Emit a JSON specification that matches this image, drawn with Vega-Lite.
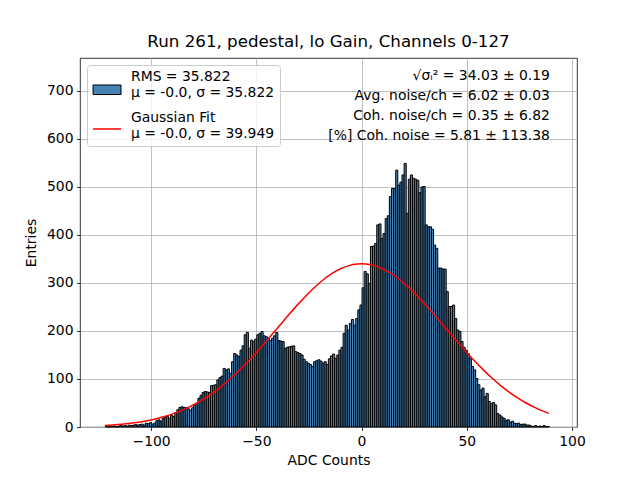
{
  "$schema": "https://vega.github.io/schema/vega-lite/v6.json",
  "description": "Pedestal ADC histogram with Gaussian fit, run 261, lo gain.",
  "width": 497,
  "height": 369,
  "autosize": {"type": "none"},
  "padding": {"left": 80, "top": 58, "right": 63, "bottom": 53},
  "background": "white",
  "title": {"text": "Run 261, pedestal, lo Gain, Channels 0-127"},
  "config": {
    "font": "DejaVu Sans",
    "view": {"stroke": "black", "strokeWidth": 0.8},
    "title": {"fontSize": 16.7, "fontWeight": "normal", "color": "black", "offset": 7, "anchor": "middle"},
    "axis": {
      "grid": true,
      "gridColor": "#b0b0b0",
      "gridWidth": 0.8,
      "domain": false,
      "tickColor": "black",
      "tickWidth": 0.8,
      "tickSize": 3.5,
      "labelFontSize": 13.9,
      "labelColor": "black",
      "labelPadding": 3.5,
      "titleFontSize": 13.9,
      "titleFontWeight": "normal",
      "titleColor": "black",
      "zindex": 1
    },
    "legend": {
      "orient": "top-left",
      "offset": 7,
      "padding": 5,
      "strokeColor": "#cccccc",
      "fillColor": "rgba(255,255,255,0.8)",
      "cornerRadius": 3,
      "labelFontSize": 13.9,
      "labelColor": "black",
      "labelLimit": 400,
      "labelOffset": 25,
      "rowPadding": 11,
      "symbolSize": 144,
      "zindex": 2
    }
  },
  "datasets": {
    "hist": [
      {"adc": -122, "entries": 1}, {"adc": -121, "entries": 0}, {"adc": -120, "entries": 1}, {"adc": -119, "entries": 1},
      {"adc": -118, "entries": 2}, {"adc": -117, "entries": 1}, {"adc": -116, "entries": 2}, {"adc": -115, "entries": 3},
      {"adc": -114, "entries": 2}, {"adc": -113, "entries": 3}, {"adc": -112, "entries": 2}, {"adc": -111, "entries": 4},
      {"adc": -110, "entries": 3}, {"adc": -109, "entries": 4}, {"adc": -108, "entries": 5}, {"adc": -107, "entries": 4},
      {"adc": -106, "entries": 5}, {"adc": -105, "entries": 6}, {"adc": -104, "entries": 4}, {"adc": -103, "entries": 8},
      {"adc": -102, "entries": 7}, {"adc": -101, "entries": 9}, {"adc": -100, "entries": 6}, {"adc": -99, "entries": 8},
      {"adc": -98, "entries": 13}, {"adc": -97, "entries": 15}, {"adc": -96, "entries": 12}, {"adc": -95, "entries": 18},
      {"adc": -94, "entries": 21}, {"adc": -93, "entries": 22}, {"adc": -92, "entries": 18}, {"adc": -91, "entries": 24},
      {"adc": -90, "entries": 22}, {"adc": -89, "entries": 30}, {"adc": -88, "entries": 36}, {"adc": -87, "entries": 41},
      {"adc": -86, "entries": 42}, {"adc": -85, "entries": 41}, {"adc": -84, "entries": 40}, {"adc": -83, "entries": 38},
      {"adc": -82, "entries": 35}, {"adc": -81, "entries": 40}, {"adc": -80, "entries": 46}, {"adc": -79, "entries": 49},
      {"adc": -78, "entries": 60}, {"adc": -77, "entries": 66}, {"adc": -76, "entries": 72}, {"adc": -75, "entries": 74},
      {"adc": -74, "entries": 73}, {"adc": -73, "entries": 72}, {"adc": -72, "entries": 86}, {"adc": -71, "entries": 87},
      {"adc": -70, "entries": 88}, {"adc": -69, "entries": 98}, {"adc": -68, "entries": 103}, {"adc": -67, "entries": 106},
      {"adc": -66, "entries": 122}, {"adc": -65, "entries": 119}, {"adc": -64, "entries": 121}, {"adc": -63, "entries": 112},
      {"adc": -62, "entries": 136}, {"adc": -61, "entries": 153}, {"adc": -60, "entries": 150}, {"adc": -59, "entries": 147},
      {"adc": -58, "entries": 160}, {"adc": -57, "entries": 169}, {"adc": -56, "entries": 192}, {"adc": -55, "entries": 197},
      {"adc": -54, "entries": 164}, {"adc": -53, "entries": 181}, {"adc": -52, "entries": 178}, {"adc": -51, "entries": 183},
      {"adc": -50, "entries": 192}, {"adc": -49, "entries": 195}, {"adc": -48, "entries": 199}, {"adc": -47, "entries": 190},
      {"adc": -46, "entries": 188}, {"adc": -45, "entries": 185}, {"adc": -44, "entries": 180}, {"adc": -43, "entries": 185},
      {"adc": -42, "entries": 190}, {"adc": -41, "entries": 197}, {"adc": -40, "entries": 180}, {"adc": -39, "entries": 179},
      {"adc": -38, "entries": 178}, {"adc": -37, "entries": 164}, {"adc": -36, "entries": 166}, {"adc": -35, "entries": 167},
      {"adc": -34, "entries": 168}, {"adc": -33, "entries": 169}, {"adc": -32, "entries": 157}, {"adc": -31, "entries": 155},
      {"adc": -30, "entries": 153}, {"adc": -29, "entries": 150}, {"adc": -28, "entries": 141}, {"adc": -27, "entries": 136},
      {"adc": -26, "entries": 133}, {"adc": -25, "entries": 130}, {"adc": -24, "entries": 126}, {"adc": -23, "entries": 136},
      {"adc": -22, "entries": 138}, {"adc": -21, "entries": 140}, {"adc": -20, "entries": 137}, {"adc": -19, "entries": 133},
      {"adc": -18, "entries": 136}, {"adc": -17, "entries": 130}, {"adc": -16, "entries": 142}, {"adc": -15, "entries": 148},
      {"adc": -14, "entries": 152}, {"adc": -13, "entries": 143}, {"adc": -12, "entries": 150}, {"adc": -11, "entries": 160},
      {"adc": -10, "entries": 166}, {"adc": -9, "entries": 195}, {"adc": -8, "entries": 212}, {"adc": -7, "entries": 202},
      {"adc": -6, "entries": 216}, {"adc": -5, "entries": 224}, {"adc": -4, "entries": 212}, {"adc": -3, "entries": 226},
      {"adc": -2, "entries": 244}, {"adc": -1, "entries": 254}, {"adc": 0, "entries": 290}, {"adc": 1, "entries": 324},
      {"adc": 2, "entries": 319}, {"adc": 3, "entries": 299}, {"adc": 4, "entries": 376}, {"adc": 5, "entries": 377},
      {"adc": 6, "entries": 382}, {"adc": 7, "entries": 421}, {"adc": 8, "entries": 423}, {"adc": 9, "entries": 393},
      {"adc": 10, "entries": 403}, {"adc": 11, "entries": 434}, {"adc": 12, "entries": 440}, {"adc": 13, "entries": 480},
      {"adc": 14, "entries": 497}, {"adc": 15, "entries": 497}, {"adc": 16, "entries": 535}, {"adc": 17, "entries": 504},
      {"adc": 18, "entries": 510}, {"adc": 19, "entries": 525}, {"adc": 20, "entries": 549}, {"adc": 21, "entries": 445},
      {"adc": 22, "entries": 516}, {"adc": 23, "entries": 525}, {"adc": 24, "entries": 518}, {"adc": 25, "entries": 516},
      {"adc": 26, "entries": 514}, {"adc": 27, "entries": 488}, {"adc": 28, "entries": 500}, {"adc": 29, "entries": 501},
      {"adc": 30, "entries": 421}, {"adc": 31, "entries": 417}, {"adc": 32, "entries": 417}, {"adc": 33, "entries": 412},
      {"adc": 34, "entries": 379}, {"adc": 35, "entries": 372}, {"adc": 36, "entries": 331}, {"adc": 37, "entries": 331},
      {"adc": 38, "entries": 329}, {"adc": 39, "entries": 329}, {"adc": 40, "entries": 282}, {"adc": 41, "entries": 251},
      {"adc": 42, "entries": 251}, {"adc": 43, "entries": 254}, {"adc": 44, "entries": 226}, {"adc": 45, "entries": 202},
      {"adc": 46, "entries": 199}, {"adc": 47, "entries": 178}, {"adc": 48, "entries": 166}, {"adc": 49, "entries": 160},
      {"adc": 50, "entries": 153}, {"adc": 51, "entries": 143}, {"adc": 52, "entries": 126}, {"adc": 53, "entries": 119},
      {"adc": 54, "entries": 101}, {"adc": 55, "entries": 88}, {"adc": 56, "entries": 77}, {"adc": 57, "entries": 81},
      {"adc": 58, "entries": 63}, {"adc": 59, "entries": 70}, {"adc": 60, "entries": 53}, {"adc": 61, "entries": 49},
      {"adc": 62, "entries": 51}, {"adc": 63, "entries": 46}, {"adc": 64, "entries": 28}, {"adc": 65, "entries": 25},
      {"adc": 66, "entries": 21}, {"adc": 67, "entries": 18}, {"adc": 68, "entries": 14}, {"adc": 69, "entries": 15},
      {"adc": 70, "entries": 10}, {"adc": 71, "entries": 12}, {"adc": 72, "entries": 8}, {"adc": 73, "entries": 7},
      {"adc": 74, "entries": 8}, {"adc": 75, "entries": 5}, {"adc": 76, "entries": 6}, {"adc": 77, "entries": 6},
      {"adc": 78, "entries": 4}, {"adc": 79, "entries": 4}, {"adc": 80, "entries": 2}, {"adc": 81, "entries": 1},
      {"adc": 82, "entries": 3}, {"adc": 83, "entries": 1}, {"adc": 84, "entries": 2}, {"adc": 85, "entries": 1},
      {"adc": 86, "entries": 3}, {"adc": 87, "entries": 1}, {"adc": 88, "entries": 1}
    ],
    "fit": [
      {"x": -122, "y": 3.2}, {"x": -118, "y": 4.34}, {"x": -114, "y": 5.8}, {"x": -110, "y": 7.68},
      {"x": -106, "y": 10.06}, {"x": -102, "y": 13.06}, {"x": -98, "y": 16.78}, {"x": -94, "y": 21.34},
      {"x": -90, "y": 26.88}, {"x": -86, "y": 33.51}, {"x": -82, "y": 41.36}, {"x": -78, "y": 50.54},
      {"x": -74, "y": 61.15}, {"x": -70, "y": 73.24}, {"x": -66, "y": 86.85}, {"x": -62, "y": 101.97},
      {"x": -58, "y": 118.51}, {"x": -54, "y": 136.37}, {"x": -50, "y": 155.35}, {"x": -46, "y": 175.21},
      {"x": -42, "y": 195.64}, {"x": -38, "y": 216.28}, {"x": -34, "y": 236.69}, {"x": -30, "y": 256.46},
      {"x": -26, "y": 275.11}, {"x": -22, "y": 292.16}, {"x": -18, "y": 307.18}, {"x": -14, "y": 319.75},
      {"x": -10, "y": 329.52}, {"x": -6, "y": 336.19}, {"x": -2, "y": 339.57}, {"x": 0, "y": 340},
      {"x": 2, "y": 339.57}, {"x": 6, "y": 336.19}, {"x": 10, "y": 329.52}, {"x": 14, "y": 319.75},
      {"x": 18, "y": 307.18}, {"x": 22, "y": 292.16}, {"x": 26, "y": 275.11}, {"x": 30, "y": 256.46},
      {"x": 34, "y": 236.69}, {"x": 38, "y": 216.28}, {"x": 42, "y": 195.64}, {"x": 46, "y": 175.21},
      {"x": 50, "y": 155.35}, {"x": 54, "y": 136.37}, {"x": 58, "y": 118.51}, {"x": 62, "y": 101.97},
      {"x": 66, "y": 86.85}, {"x": 70, "y": 73.24}, {"x": 74, "y": 61.15}, {"x": 78, "y": 50.54},
      {"x": 82, "y": 41.36}, {"x": 86, "y": 33.51}, {"x": 89, "y": 28.42}
    ],
    "stats": [
      {"line": "√σᵢ² = 34.03 ± 0.19"}
    ]
  },
  "layer": [
    {
      "data": {"name": "hist"},
      "mark": {"type": "bar", "strokeWidth": 1, "binSpacing": 0},
      "encoding": {
        "x": {
          "field": "adc",
          "type": "quantitative",
          "bin": {"binned": true, "step": 1},
          "title": "ADC Counts",
          "scale": {"domain": [-133.8, 102.4], "nice": false, "zero": false},
          "axis": {"values": [-100, -50, 0, 50, 100], "titlePadding": 6}
        },
        "y": {
          "field": "entries",
          "type": "quantitative",
          "title": "Entries",
          "scale": {"domain": [0, 768.6], "nice": false},
          "axis": {"values": [0, 100, 200, 300, 400, 500, 600, 700], "titlePadding": 8}
        },
        "fill": {
          "datum": "hist",
          "scale": {"domain": ["hist", "fit"], "range": ["#4682b4", "transparent"]},
          "legend": {
            "title": null,
            "labelExpr": "datum.value === 'hist' ? ['RMS = 35.822', 'μ = -0.0, σ = 35.822'] : ['Gaussian Fit', 'μ = -0.0, σ = 39.949']",
            "symbolType": {"expr": "(datum.value === 'hist' ? 'M-0.99,1.33H3.67V2.92H-0.99Z' : 'M-0.99,1.83H3.67')"},
            "symbolStrokeWidth": {"expr": "(datum.value === 'hist' ? 1 : 1.5)"}
          }
        },
        "stroke": {
          "datum": "hist",
          "scale": {"domain": ["hist", "fit"], "range": ["black", "red"]},
          "legend": {
            "title": null,
            "labelExpr": "datum.value === 'hist' ? ['RMS = 35.822', 'μ = -0.0, σ = 35.822'] : ['Gaussian Fit', 'μ = -0.0, σ = 39.949']",
            "symbolType": {"expr": "(datum.value === 'hist' ? 'M-0.99,1.33H3.67V2.92H-0.99Z' : 'M-0.99,1.83H3.67')"},
            "symbolStrokeWidth": {"expr": "(datum.value === 'hist' ? 1 : 1.5)"}
          }
        }
      }
    },
    {
      "data": {"name": "fit"},
      "mark": {"type": "line", "strokeWidth": 1.5, "interpolate": "monotone"},
      "encoding": {
        "x": {"field": "x", "type": "quantitative", "title": "ADC Counts"},
        "y": {"field": "y", "type": "quantitative", "title": "Entries"},
        "stroke": {
          "datum": "fit",
          "scale": {"domain": ["hist", "fit"], "range": ["black", "red"]},
          "legend": {
            "title": null,
            "labelExpr": "datum.value === 'hist' ? ['RMS = 35.822', 'μ = -0.0, σ = 35.822'] : ['Gaussian Fit', 'μ = -0.0, σ = 39.949']",
            "symbolType": {"expr": "(datum.value === 'hist' ? 'M-0.99,1.33H3.67V2.92H-0.99Z' : 'M-0.99,1.83H3.67')"},
            "symbolStrokeWidth": {"expr": "(datum.value === 'hist' ? 1 : 1.5)"}
          }
        }
      }
    },
    {
      "data": {"name": "stats"},
      "mark": {"type": "text", "align": "right", "baseline": "top", "fontSize": 13.9, "lineHeight": 20, "color": "black"},
      "encoding": {
        "x": {"datum": 89.55, "type": "quantitative", "title": "ADC Counts"},
        "y": {"datum": 745, "type": "quantitative", "title": "Entries"},
        "text": {"value": ["√σᵢ² = 34.03 ± 0.19", "Avg. noise/ch = 6.02 ± 0.03", "Coh. noise/ch = 0.35 ± 6.82", "[%] Coh. noise = 5.81 ± 113.38"]}
      }
    }
  ]
}
